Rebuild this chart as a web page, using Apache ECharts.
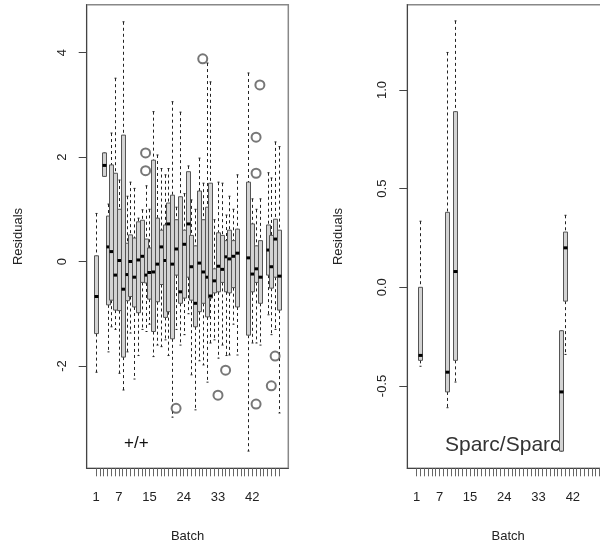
<!DOCTYPE html>
<html><head><meta charset="utf-8">
<script src="https://cdn.jsdelivr.net/npm/echarts@6/dist/echarts.min.js"></script>
<style>html,body{margin:0;padding:0;background:#fff}#chart{width:600px;height:546px}</style>
</head><body><div id="chart"></div>
<script>
// Batch tick positions and the labels that are printed under them
const batchTicks = [];
for (let b = 1; b <= 49; b++) batchTicks.push(b);
const batchLabels = [1, 7, 15, 24, 33, 42];
const wtTicks = [-2, 0, 2, 4];
const sparcTicks = [-0.5, 0.0, 0.5, 1.0];

// Genotype +/+ : [batch, lower whisker, Q1, median, Q3, upper whisker]
const wtBoxes = [
  [1, -2.12, -1.38, -0.67, 0.11, 0.92],
  [3, 1.63, 1.63, 1.84, 2.08, 2.08],
  [4, -1.73, -0.83, 0.28, 0.87, 1.10],
  [5, -1.25, -0.74, 0.19, 1.85, 2.46],
  [6, -1.30, -0.93, -0.26, 1.69, 3.51],
  [7, -2.14, -0.94, 0.02, 1.00, 1.56],
  [8, -2.46, -1.83, -0.53, 2.42, 4.59],
  [9, -1.73, -0.75, -0.25, 0.35, 1.25],
  [10, -1.37, -0.67, 0.00, 0.51, 1.52],
  [11, -2.25, -0.87, -0.30, 0.45, 1.40],
  [12, -1.80, -0.98, 0.03, 0.76, 0.83],
  [13, -1.30, -0.40, 0.10, 0.79, 0.99],
  [14, -1.34, -0.41, -0.26, 0.43, 1.45],
  [15, -1.20, -0.72, -0.21, 0.26, 1.00],
  [16, -1.82, -1.34, -0.20, 1.94, 2.87],
  [17, -1.60, -0.77, -0.05, 0.83, 2.04],
  [18, -1.63, -0.44, 0.28, 0.60, 1.78],
  [19, -1.50, -1.07, 0.02, 0.70, 1.66],
  [20, -1.80, -0.96, 0.72, 1.12, 1.78],
  [21, -2.98, -1.48, -0.05, 1.27, 3.06],
  [22, -1.30, -0.26, 0.24, 0.80, 1.04],
  [23, -1.60, -0.80, -0.58, 1.24, 2.86],
  [24, -1.40, -0.70, 0.33, 0.60, 1.30],
  [25, -1.00, -0.30, 0.72, 1.72, 1.83],
  [26, -2.17, -0.74, -0.10, 0.50, 1.18],
  [27, -2.84, -1.25, -0.80, 0.30, 1.00],
  [28, -1.90, -0.96, -0.03, 1.35, 1.98],
  [29, -1.98, -0.80, -0.20, 0.80, 1.50],
  [30, -2.31, -1.06, -0.30, 1.04, 3.80],
  [31, -1.56, -0.70, -0.66, 1.50, 3.44],
  [32, -1.50, -0.60, -0.37, -0.14, 0.80],
  [33, -1.85, -0.58, -0.09, 0.55, 1.52],
  [34, -1.60, -0.40, -0.15, 0.50, 1.50],
  [35, -1.80, -0.58, 0.09, 0.40, 0.89],
  [36, -1.79, -0.60, 0.05, 0.60, 1.25],
  [37, -1.20, -0.50, 0.10, 0.40, 1.00],
  [38, -1.79, -0.87, 0.16, 0.62, 1.66],
  [41, -3.63, -1.41, 0.07, 1.52, 3.61],
  [42, -1.56, -0.58, -0.24, 0.72, 1.20],
  [43, -1.56, -0.40, -0.14, 0.30, 1.00],
  [44, -1.60, -0.80, -0.30, 0.40, 1.20],
  [46, -1.02, -0.26, 0.22, 0.70, 1.70],
  [47, -1.40, -0.51, -0.10, 0.50, 1.60],
  [48, -1.30, -0.30, 0.43, 0.81, 2.29],
  [49, -2.90, -0.93, -0.28, 0.60, 2.20]
];
const wtOutliers = [
  [14, 2.08], [14, 1.74], [29, 3.88], [44, 3.38], [43, 2.38], [43, 1.69],
  [22, -2.81], [33, -2.56], [35, -2.08], [43, -2.73], [47, -2.38], [48, -1.81]
];

// Genotype Sparc/Sparc
const sparcBoxes = [
  [2, -0.40, -0.37, -0.345, 0.00, 0.335],
  [9, -0.61, -0.53, -0.43, 0.38, 1.19],
  [11, -0.48, -0.37, 0.08, 0.89, 1.35],
  [39, -0.83, -0.83, -0.53, -0.22, -0.22],
  [40, -0.34, -0.07, 0.20, 0.28, 0.365]
];
const sparcOutliers = [];

const FONT = 'Liberation Sans, Arial, sans-serif';
const INK = '#222';

function boxRender(params, api) {
  const b = api.value(0);
  const lo = api.coord([b, api.value(1)]);
  const q1 = api.coord([b, api.value(2)]);
  const md = api.coord([b, api.value(3)]);
  const q3 = api.coord([b, api.value(4)]);
  const hi = api.coord([b, api.value(5)]);
  const x = Math.round(q1[0]) + 0.5;
  const half = 2;
  const cap = 1;
  const dash = { stroke: INK, lineWidth: 1, lineDash: [3, 3] };
  const solid = { stroke: INK, lineWidth: 1 };
  return {
    type: 'group',
    children: [
      { type: 'line', shape: { x1: x, y1: hi[1], x2: x, y2: q3[1] }, style: dash },
      { type: 'line', shape: { x1: x, y1: q1[1], x2: x, y2: lo[1] }, style: dash },
      { type: 'line', shape: { x1: x - cap, y1: hi[1], x2: x + cap, y2: hi[1] }, style: solid },
      { type: 'line', shape: { x1: x - cap, y1: lo[1], x2: x + cap, y2: lo[1] }, style: solid },
      { type: 'rect', shape: { x: x - half, y: q3[1], width: half * 2, height: q1[1] - q3[1] },
        style: { fill: '#d3d3d3', stroke: '#555', lineWidth: 1 } },
      { type: 'line', shape: { x1: x - half, y1: md[1], x2: x + half, y2: md[1] },
        style: { stroke: '#000', lineWidth: 3 } }
    ]
  };
}

function xAxisFor(gridIndex) {
  return {
    type: 'value', gridIndex, min: -1.46, max: 51.46,
    name: 'Batch', nameLocation: 'middle', nameGap: 62,
    nameTextStyle: { fontFamily: FONT, fontSize: 13, color: INK },
    axisLine: { show: true, onZero: false, lineStyle: { color: '#444', width: 1 } },
    axisTick: { show: true, length: 8, customValues: batchTicks, lineStyle: { color: '#666', width: 1 } },
    axisLabel: { customValues: batchLabels, margin: 23, fontFamily: FONT, fontSize: 13, color: INK },
    splitLine: { show: false }
  };
}

function yAxisFor(gridIndex, min, max, ticks, digits) {
  return {
    type: 'value', gridIndex, min, max,
    name: 'Residuals', nameLocation: 'middle', nameGap: 62,
    nameTextStyle: { fontFamily: FONT, fontSize: 13, color: INK },
    axisLine: { show: true, onZero: false, lineStyle: { color: '#444', width: 1 } },
    axisTick: { show: true, length: 8, customValues: ticks, lineStyle: { color: '#444', width: 1 } },
    axisLabel: { customValues: ticks, rotate: 90, margin: 18, fontFamily: FONT, fontSize: 13, color: INK,
      formatter: v => v.toFixed(digits) },
    splitLine: { show: false }
  };
}

const gridBase = { top: 4.7, width: 201.6, height: 463.6, show: true, borderColor: '#888', borderWidth: 1.5,
  backgroundColor: 'transparent', containLabel: false, outerBoundsMode: 'none' };

const chart = echarts.init(document.getElementById('chart'), null, { renderer: 'canvas' });
chart.setOption({
  animation: false,
  backgroundColor: '#fff',
  grid: [
    Object.assign({ left: 86.7 }, gridBase),
    Object.assign({ left: 407.3 }, gridBase)
  ],
  xAxis: [xAxisFor(0), xAxisFor(1)],
  yAxis: [yAxisFor(0, -3.959, 4.917, wtTicks, 0), yAxisFor(1, -0.917, 1.432, sparcTicks, 1)],
  graphic: [
    { type: 'text', left: 124, top: 435, style: { text: '+/+', font: '17px ' + FONT, fill: '#111' } },
    { type: 'text', left: 445, top: 435, style: { text: 'Sparc/Sparc', font: '21px ' + FONT, fill: '#333' } }
  ],
  series: [
    { type: 'custom', xAxisIndex: 0, yAxisIndex: 0, renderItem: boxRender, data: wtBoxes, z: 3 },
    { type: 'scatter', xAxisIndex: 0, yAxisIndex: 0, data: wtOutliers, symbol: 'emptyCircle', symbolSize: 9,
      itemStyle: { color: '#555', borderColor: '#555', borderWidth: 1 }, z: 4 },
    { type: 'custom', xAxisIndex: 1, yAxisIndex: 1, renderItem: boxRender, data: sparcBoxes, z: 3 },
    { type: 'scatter', xAxisIndex: 1, yAxisIndex: 1, data: sparcOutliers, symbol: 'emptyCircle', symbolSize: 9,
      itemStyle: { color: '#555', borderColor: '#555', borderWidth: 1 }, z: 4 }
  ]
});
</script></body></html>
